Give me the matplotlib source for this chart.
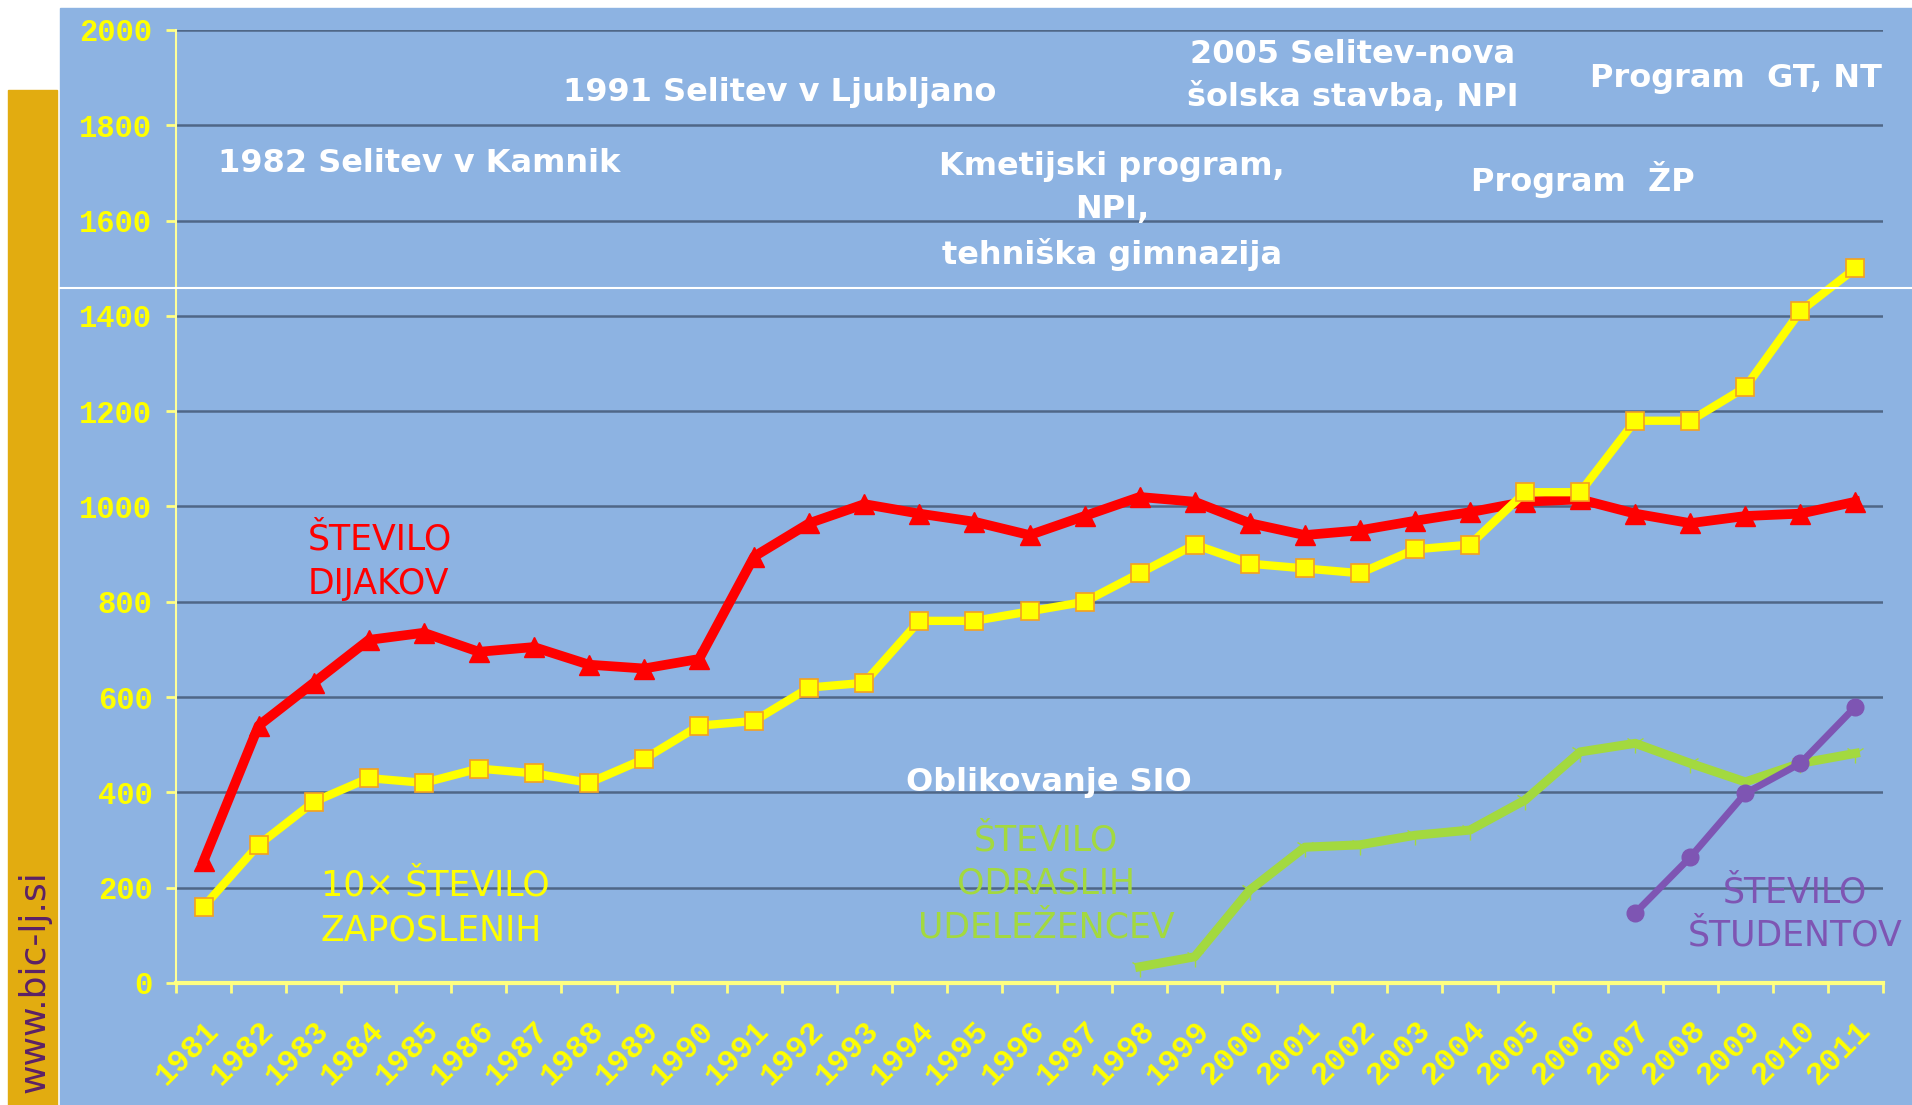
import matplotlib
matplotlib.use('Agg')
import matplotlib.pyplot as plt
from matplotlib.patches import Rectangle
import numpy as np

years = list(range(1981, 2012))

# stevilo dijakov (students)
dijaki = [256, 540, 630, 720, 735, 695, 705, 668, 660, 680,
          895, 965, 1005, 985, 968, 940, 980, 1020, 1010, 965,
          940, 950, 970, 988, 1010, 1015, 985, 965, 980, 985, 1010]

# 10x stevilo zaposlenih (employees)
zaposleni = [160, 290, 380, 430, 420, 450, 440, 420, 470, 540,
             550, 620, 630, 760, 760, 780, 800, 860, 920, 880,
             870, 860, 910, 920, 1030, 1030, 1180, 1180, 1250, 1410, 1500]

# odrasli udelezenci (adults)
odrasli_years = list(range(1998, 2012))
odrasli = [34, 55, 195, 285, 290, 310, 321, 384, 485, 503, 461, 422, 461, 482]

# studenti
studenti_years = list(range(2007, 2012))
studenti = [147, 264, 398, 461, 580]

yticks = list(range(0, 2001, 200))

W, H = 1912, 1105
BG = '#8db3e2'

fig = plt.figure(figsize=(W / 100, H / 100), dpi=100)
fig.patch.set_facecolor('white')

# background panels
fig.patches.append(Rectangle((60 / W, 0), 1 - 60 / W, 1 - 8 / H,
                             transform=fig.transFigure, color=BG, zorder=-2))
fig.patches.append(Rectangle((8 / W, 0), 49 / W, 1 - 90 / H,
                             transform=fig.transFigure, color='#e2ac10', zorder=-2))

ax = fig.add_axes([176 / W, 1 - 983 / H, (1883 - 176) / W, (983 - 30) / H])
ax.set_facecolor(BG)
ax.patch.set_alpha(0)

ax.plot(years, dijaki, color='#ff0000', lw=7, marker='^', ms=14,
        mfc='#ff0000', mec='#ff0000', zorder=4, clip_on=False)
ax.plot(years, zaposleni, color='#ffff00', lw=6, marker='s', ms=13,
        mfc='#ffff00', mec='#f5a020', mew=1.2, zorder=5, clip_on=False)
ax.plot(odrasli_years, odrasli, color='#a3d93f', lw=6.5, marker='1', ms=14,
        mec='#a3d93f', mew=1, zorder=3, clip_on=False)
ax.plot(studenti_years, studenti, color='#7e55b3', lw=5, marker='o', ms=12,
        mfc='#7e55b3', mec='#7e55b3', zorder=6, clip_on=False)

ax.set_xlim(1980.5, 2011.5)
ax.set_ylim(0, 2000)

ax.set_yticks(yticks)
ax.set_yticklabels([str(v) for v in yticks])
for v in yticks[1:]:
    ax.axhline(v, color='#4f6787', lw=1.8, zorder=1)

ax.set_xticks(years)
ax.set_xticklabels([str(y) for y in years], rotation=45, ha='right', va='top',
                   rotation_mode='anchor')
ax.set_xticks(np.arange(1980.5, 2012, 1), minor=True)
ax.tick_params(axis='x', which='major', length=0, pad=23)
ax.tick_params(axis='x', which='minor', length=7, width=2, color='#ffff80',
               direction='out')
ax.tick_params(axis='y', length=7, width=2, color='#ffff80', pad=10)

for lab in ax.get_xticklabels():
    lab.set_family('Liberation Mono')
    lab.set_fontsize(23)
    lab.set_color('#ffff00')
    lab.set_fontweight('bold')
for lab in ax.get_yticklabels():
    lab.set_family('Liberation Mono')
    lab.set_fontsize(22)
    lab.set_color('#ffff00')
    lab.set_fontweight('bold')

for s in ['top', 'right']:
    ax.spines[s].set_visible(False)
ax.spines['left'].set_color('#ffff99')
ax.spines['left'].set_linewidth(1.5)
ax.spines['bottom'].set_color('#ffff80')
ax.spines['bottom'].set_linewidth(3)

# white separator line across the panel
fig.add_artist(plt.Line2D([60 / W, 1], [1 - 288 / H, 1 - 288 / H],
                          transform=fig.transFigure, color='white', lw=1.5))


def ftext(x, y, s, **kw):
    fig.text(x / W, 1 - y / H, s, **kw)


white = dict(color='white', fontsize=23, fontweight='bold', family='DejaVu Sans')
ftext(218, 163, '1982 Selitev v Kamnik', ha='left', va='center', **white)
ftext(563, 92, '1991 Selitev v Ljubljano', ha='left', va='center', **white)
ftext(1353, 76, '2005 Selitev-nova\nšolska stavba, NPI', ha='center', va='center',
      linespacing=1.5, **white)
ftext(1736, 79, 'Program  GT, NT', ha='center', va='center', **white)
ftext(1112, 211, 'Kmetijski program,\nNPI,\ntehniška gimnazija', ha='center',
      va='center', linespacing=1.5, **white)
ftext(1583, 179, 'Program  ŽP', ha='center', va='center', **white)
ftext(1049, 783, 'Oblikovanje SIO', ha='center', va='center', **white)

ftext(308, 562, 'ŠTEVILO\nDIJAKOV', ha='left', va='center', color='#ff0000',
      fontsize=25, linespacing=1.39)
ftext(321, 908, '10× ŠTEVILO\nZAPOSLENIH', ha='left', va='center', color='#ffff00',
      fontsize=25, linespacing=1.39)
ftext(1046, 884, 'ŠTEVILO\nODRASLIH\nUDELEŽENCEV', ha='center', va='center',
      color='#a3d93f', fontsize=25, linespacing=1.36)
ftext(1795, 914, 'ŠTEVILO\nŠTUDENTOV', ha='center', va='center', color='#7e55b3',
      fontsize=25, linespacing=1.36)

ftext(34, 982, 'www.bic-lj.si', ha='center', va='center', rotation=90,
      color='#5b2167', fontsize=26)

fig.savefig('out.png', dpi=100, facecolor=fig.get_facecolor())
